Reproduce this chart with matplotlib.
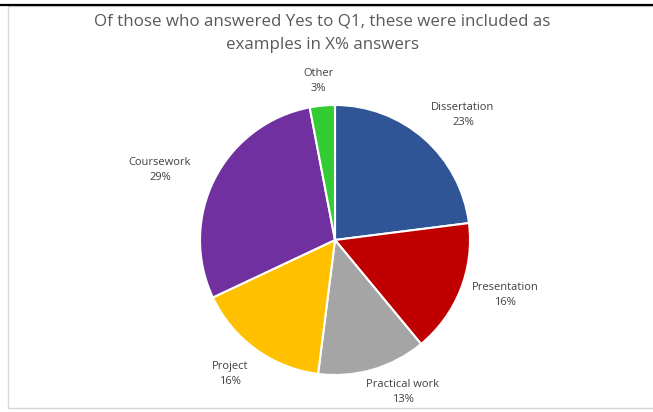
import matplotlib
matplotlib.use("Agg")
import matplotlib.pyplot as plt
from matplotlib.patches import Rectangle
from matplotlib.lines import Line2D

plt.rcParams['font.family'] = ['Open Sans', 'DejaVu Sans']

title = "Of those who answered Yes to Q1, these were included as\nexamples in X% answers"
categories = ["Dissertation", "Presentation", "Practical work", "Project", "Coursework", "Other"]
shares = [23, 16, 13, 16, 29, 3]
colors = ["#2F5597", "#C00000", "#A5A5A5", "#FFC000", "#7030A0", "#33CC33"]

# label anchor points (figure pixel coords, origin top-left)
label_pos = [(463, 115), (505, 295), (403, 392), (230, 374), (160, 170), (318, 81)]

W, H = 653, 412
fig = plt.figure(figsize=(W / 100, H / 100), dpi=100)
ax = fig.add_axes([0, 0, 1, 1])

cx, cy, r = 335, H - 240, 135
ax.pie(shares, colors=colors, startangle=90, counterclock=False,
       center=(cx, cy), radius=r, frame=True,
       wedgeprops=dict(edgecolor="white", linewidth=1.5))
ax.set_xlim(0, W)
ax.set_ylim(0, H)
ax.set_axis_off()

# chart frame and top rule
ax.add_patch(Rectangle((7.5, 4), W, H - 10, fill=False, edgecolor="#D9D9D9", linewidth=1.0))
ax.add_line(Line2D([0, W], [H - 4.5, H - 4.5], color="black", linewidth=1.6))

for name, val, (px, py) in zip(categories, shares, label_pos):
    ax.text(px, H - py, f"{name}\n{val}%", ha="center", va="center",
            fontsize=8, color="#404040", linespacing=1.6)

ax.text(322, H - 33, title, ha="center", va="center", fontsize=12.2,
        color="#595959", linespacing=1.65)

fig.savefig("out.png", dpi=100)
